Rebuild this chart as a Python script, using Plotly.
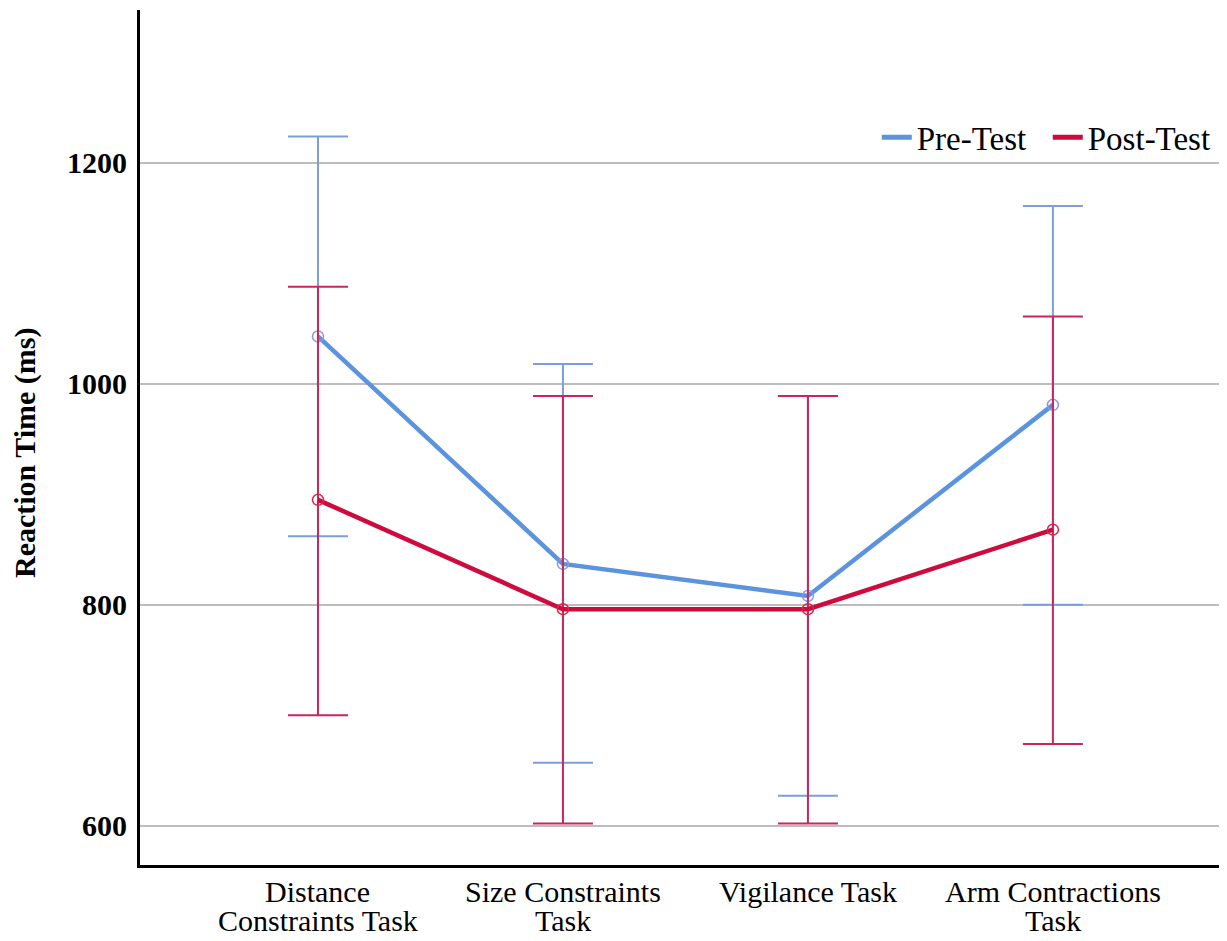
import plotly.graph_objects as go

cat_line1 = ["Distance", "Size Constraints", "Vigilance Task", "Arm Contractions"]
cat_line2 = ["Constraints Task", "Task", "", "Task"]
cat_pos = [0, 1, 2, 3]

pre_mean = [1043, 837, 808, 981]
pre_upper = [1224, 1018, 989, 1161]
pre_lower = [862, 657, 627, 800]

post_mean = [895, 796, 796, 868]
post_upper = [1088, 989, 989, 1061]
post_lower = [700, 602, 602, 674]

y_ticks = [600, 800, 1000, 1200]

FONT = "Liberation Serif"
BLUE = "#5B93DE"
RED = "#CF0A3C"

def err(mean, up, lo):
    return [u - m for u, m in zip(up, mean)], [m - l for m, l in zip(mean, lo)]

pre_plus, pre_minus = err(pre_mean, pre_upper, pre_lower)
post_plus, post_minus = err(post_mean, post_upper, post_lower)

fig = go.Figure()
fig.add_trace(go.Scatter(
    x=cat_pos, y=pre_mean, name="Pre-Test", mode="lines+markers", showlegend=False,
    line=dict(color=BLUE, width=4.5),
    marker=dict(symbol="circle-open", size=11, color="#8F95E3", line=dict(width=1.5)),
    error_y=dict(type="data", array=pre_plus, arrayminus=pre_minus,
                 color="#7E9FD6", thickness=2, width=30),
))
fig.add_trace(go.Scatter(
    x=cat_pos, y=post_mean, name="Post-Test", mode="lines+markers", showlegend=False,
    line=dict(color=RED, width=4.5),
    marker=dict(symbol="circle-open", size=11, color="#D7264F", line=dict(width=1.5)),
    error_y=dict(type="data", array=post_plus, arrayminus=post_minus,
                 color="#C8275A", thickness=2, width=30),
))
# legend entries (lines only)
fig.add_trace(go.Scatter(x=[None], y=[None], name="Pre-Test&nbsp;&nbsp;", mode="lines",
                         line=dict(color=BLUE, width=5)))
fig.add_trace(go.Scatter(x=[None], y=[None], name="Post-Test", mode="lines",
                         line=dict(color=RED, width=5)))

annotations = [dict(text="<b>Reaction Time (ms)</b>", xref="paper", yref="paper",
                    x=-0.1066, y=0.483, textangle=-90, showarrow=False,
                    xanchor="center", yanchor="middle",
                    font=dict(family=FONT, size=30, color="black"))]
for xp, t1, t2 in zip(cat_pos, cat_line1, cat_line2):
    annotations.append(dict(text=t1, xref="x", yref="paper", x=xp, y=0, yshift=-26,
                            showarrow=False, xanchor="center", yanchor="middle",
                            font=dict(family=FONT, size=30, color="black")))
    if t2:
        annotations.append(dict(text=t2, xref="x", yref="paper", x=xp, y=0, yshift=-55,
                                showarrow=False, xanchor="center", yanchor="middle",
                                font=dict(family=FONT, size=30, color="black")))

fig.update_layout(
    width=1211, height=925,
    margin=dict(l=132, r=0, t=2, b=68),
    paper_bgcolor="white", plot_bgcolor="white",
    font=dict(family=FONT, size=30, color="black"),
    showlegend=True,
    legend=dict(orientation="h", x=0.997, xanchor="right", y=0.851, yanchor="middle",
                bgcolor="rgba(0,0,0,0)", font=dict(family=FONT, size=33, color="black"),
                itemwidth=30, tracegroupgap=0),
    xaxis=dict(range=[-0.7265, 3.678], tickvals=cat_pos, showticklabels=False,
               showgrid=False, zeroline=False, showline=True, linecolor="black",
               linewidth=3, ticks=""),
    yaxis=dict(range=[564.4, 1338.5], tickvals=y_ticks, showgrid=True,
               gridcolor="#BDBDBD", gridwidth=1.5, zeroline=False, showline=True,
               linecolor="black", linewidth=3, ticks="", ticklabelstandoff=4,
               tickfont=dict(family=FONT, size=30, color="black", weight="bold")),
    annotations=annotations,
)

fig.write_html("out.html")
